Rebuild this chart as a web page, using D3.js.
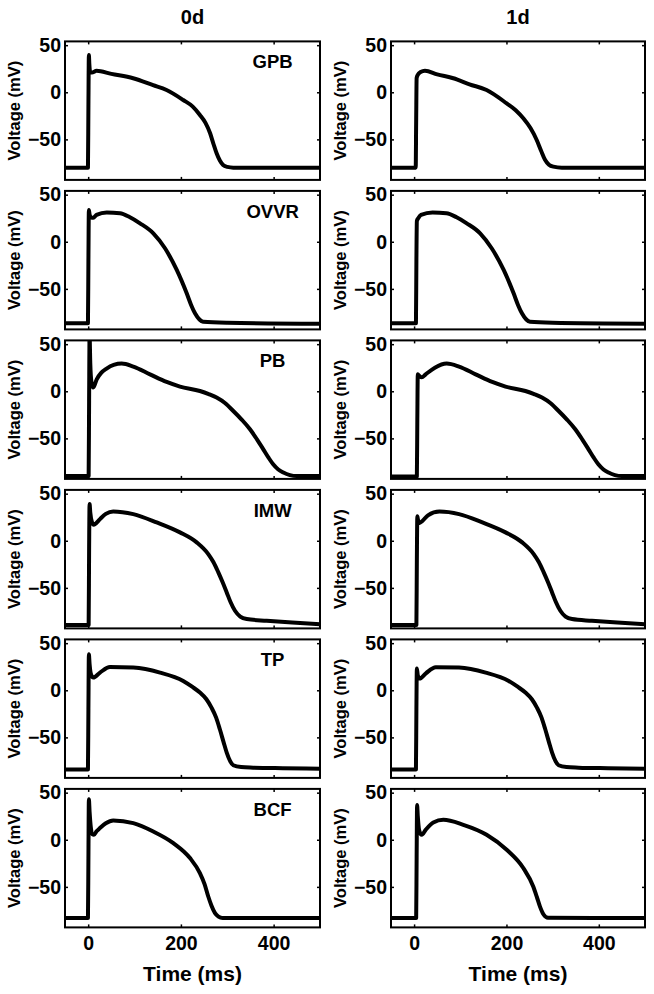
<!DOCTYPE html>
<html>
<head>
<meta charset="utf-8">
<script src="https://cdn.jsdelivr.net/npm/d3@7"></script>
<style>
html,body{margin:0;padding:0;background:#fff;}
svg{display:block;}
text{font-family:"Liberation Sans",Arial,Helvetica,sans-serif;font-weight:bold;fill:#000;}
</style>
</head>
<body>
<svg id="chart" width="654" height="994"></svg>
<script>
// ---- data ----
const conditions = ["0d", "1d"];
const models = ["GPB", "OVVR", "PB", "IMW", "TP", "BCF"];
const xTicks = [0, 200, 400];
const yTicks = [-50, 0, 50];
const xDomain = [-50, 500];
const yDomain = [-93, 54];

const gpb0d = [[-50,-80],[-0.5,-80],[0.5,-15],[1.5,39.5],[2.5,30],[4,22],[8,21],[18,22.8],[50,19.5],[97,14.9],[140,7.5],[169,2.4],[205,-8.2],[225,-15],[241,-24.1],[253,-32.5],[263,-43.5],[270,-54.5],[277,-64.8],[284,-72.5],[291,-77.2],[300,-79.2],[313,-80],[500,-80]];
const gpb1d = [[-50,-80],[3.5,-80],[4.5,-30],[5.5,15],[8,18.5],[14,21.5],[23.6,22.9],[50,19],[85,14.9],[120,8.5],[157,2.4],[200.5,-11.8],[220,-19],[236.5,-27.6],[252,-38],[265.5,-50.6],[275,-62],[283.5,-71.6],[292,-76.8],[301.5,-78.9],[320,-80],[500,-80]];
const ovvr0d = [[-50,-86.5],[-0.5,-86.5],[0.5,-20],[1.5,33.8],[3,29],[6,26],[11,25.5],[18,28.5],[40,31],[68.6,30.3],[90,26],[111.8,19.6],[140.5,9],[165.7,-6.9],[191,-29.9],[212.5,-54.7],[222,-67],[230.4,-75.9],[240,-82.5],[248,-85],[300,-86],[500,-87]];
const ovvr1d = [[-50,-86.5],[4,-86.5],[5,-20],[6,22],[9,25],[15,28.5],[40,31],[70,30.3],[92,26],[114,19.6],[143,9],[168,-6.9],[194,-29.9],[215.5,-54.7],[225,-67],[233.5,-75.9],[243,-82.5],[251,-85],[300,-86],[500,-87]];
const pb0d = [[-50,-90],[1,-90],[2,-10],[3,60],[4.5,30],[7,10],[11,3.9],[18.4,12.7],[28,19.5],[39.7,24.1],[55,28],[72.3,29.4],[97.3,26.2],[133.3,18],[169.2,9.9],[198,5],[241,0.3],[260,-3],[277,-6.7],[295,-12.5],[313,-20.9],[331,-30],[349,-40.3],[364,-51],[377.7,-61.6],[389,-70.5],[399,-77.5],[410,-83],[421,-86.3],[435,-89],[450,-90],[500,-90]];
const pb1d = [[-50,-90.5],[6,-90.5],[7,-30],[8,18],[11,16.5],[16.5,14.8],[25,18],[45,25.1],[70.6,29.4],[97.3,26.2],[133.3,18],[169.2,9.9],[198,5],[241,0.3],[260,-3],[277,-6.7],[295,-12.5],[313,-20.9],[331,-30],[349,-40.3],[364,-51],[377.7,-61.6],[389,-70.5],[399,-77.5],[410,-83],[421,-86.3],[435,-89],[450,-90],[500,-90]];
const imw0d = [[-50,-89.5],[1,-89.5],[2,-10],[3,39],[4.5,30],[8,20],[12,17],[14.7,17.7],[25.5,23],[38,28.5],[54,31.2],[97.3,28.3],[147.8,19.5],[198,8.9],[234,-1.7],[259,-14.1],[270,-22.5],[280.7,-33.5],[290,-44],[298.8,-54.8],[307,-65],[316.7,-74.3],[328,-80.5],[342,-83.1],[385,-84.9],[440,-86.8],[500,-88.5]];
const imw1d = [[-50,-89.5],[5,-89.5],[6,-20],[7,26],[8.5,22],[12,19],[18,21],[30,27],[55,31],[97.3,28.3],[147.8,19.5],[198,8.9],[234,-1.7],[259,-14.1],[270,-22.5],[280.7,-33.5],[290,-44],[298.8,-54.8],[307,-65],[316.7,-74.3],[328,-80.5],[342,-83.1],[385,-84.9],[440,-86.8],[500,-88.5]];
const tp0d = [[-50,-84],[-0.5,-84],[0.5,-20],[1.5,38.2],[3,28],[6,17],[11,13.5],[25.5,18.8],[47,24.7],[97.3,24.1],[155,18.8],[205,9.9],[225,3.5],[241,-2.4],[255,-9.5],[266,-18.4],[276,-29],[284,-41.4],[292,-55],[298.8,-66.1],[306,-75],[313,-79.6],[330,-81.5],[356,-82.1],[420,-82.7],[500,-83.2]];
const tp1d = [[-50,-84],[4,-84],[5,-20],[6,23],[8,16],[12,12.5],[25.5,18],[47,24.5],[97.3,24.1],[155,18.8],[205,9.9],[225,3.5],[241,-2.4],[255,-9.5],[266,-18.4],[276,-29],[284,-41.4],[292,-55],[298.8,-66.1],[306,-75],[313,-79.6],[330,-81.5],[356,-82.1],[420,-82.7],[500,-83.2]];
const bcf0d = [[-50,-83],[-0.5,-83],[0.5,-20],[1.5,43],[3,30],[6,12],[9,6],[12.5,5.3],[18,9],[25.5,12.4],[38,17.5],[54,20.5],[97.3,17.7],[140.5,8.8],[183.6,-3.5],[219.6,-19.4],[241,-35.4],[251,-47],[259,-60.2],[266,-70],[273.6,-77.9],[281,-81.5],[290,-83],[500,-83]];
const bcf1d = [[-50,-83],[4.5,-83],[5.5,-20],[6.5,37],[8,25],[11,10],[16.5,5.3],[25,10.5],[41.6,18.4],[63.3,21.2],[106.6,15.9],[157,5.3],[200.5,-10.6],[236.5,-30],[258,-49.6],[266,-61],[272.6,-70.9],[280,-79],[290,-82.8],[500,-83]];

const series = {
  GPB: [gpb0d, gpb1d],
  OVVR: [ovvr0d, ovvr1d],
  PB: [pb0d, pb1d],
  IMW: [imw0d, imw1d],
  TP: [tp0d, tp1d],
  BCF: [bcf0d, bcf1d]
};

// ---- layout ----
const svg = d3.select("#chart");
const colX = [65, 391];
const colW = [255, 254];
const rowTop0 = 41.4, rowStep = 149.5, panelH = 138.5;
const font = '"Liberation Sans",Arial,Helvetica,sans-serif';

conditions.forEach((cond, c) => {
  const x = d3.scaleLinear().domain(xDomain).range([colX[c], colX[c] + colW[c]]);
  svg.append("text")
    .attr("x", colX[c] + colW[c] / 2)
    .attr("y", 24)
    .attr("text-anchor", "middle")
    .style("font-size", "20px")
    .text(cond);

  models.forEach((m, r) => {
    const top = rowTop0 + r * rowStep;
    const y = d3.scaleLinear().domain(yDomain).range([top + panelH, top]);
    const g = svg.append("g");
    const clipId = "clip-" + c + "-" + r;
    svg.append("clipPath").attr("id", clipId)
      .append("rect").attr("x", x.range()[0]).attr("y", top)
      .attr("width", colW[c]).attr("height", panelH);

    const line = d3.line().x(d => x(d[0])).y(d => y(d[1])).curve(d3.curveMonotoneX);
    g.append("path")
      .datum(series[m][c])
      .attr("clip-path", "url(#" + clipId + ")")
      .attr("d", line)
      .attr("fill", "none")
      .attr("stroke", "#000")
      .attr("stroke-width", 4)
      .attr("stroke-linejoin", "round");

    // axes with inward ticks
    const left = g.append("g").attr("transform", `translate(${x.range()[0]},0)`)
      .call(d3.axisLeft(y).tickValues(yTicks).tickSize(-3).tickPadding(4));
    const right = g.append("g").attr("transform", `translate(${x.range()[1]},0)`)
      .call(d3.axisRight(y).tickValues(yTicks).tickSize(-3).tickFormat(""));
    const topAx = g.append("g").attr("transform", `translate(0,${top})`)
      .call(d3.axisTop(x).tickValues(xTicks).tickSize(-3).tickFormat(""));
    const bottom = g.append("g").attr("transform", `translate(0,${top + panelH})`)
      .call(d3.axisBottom(x).tickValues(xTicks).tickSize(-3).tickPadding(9)
        .tickFormat(r === models.length - 1 ? d3.format("d") : () => ""));
    [left, right, topAx, bottom].forEach(a => {
      a.select(".domain").remove();
      a.selectAll(".tick line").attr("stroke", "#000").attr("stroke-width", 1.5);
      a.selectAll(".tick text").style("font-family", font).style("font-weight", "bold")
        .style("font-size", "19.5px").attr("fill", "#000");
    });

    g.append("rect")
      .attr("x", x.range()[0]).attr("y", top)
      .attr("width", colW[c]).attr("height", panelH)
      .attr("fill", "none").attr("stroke", "#000").attr("stroke-width", 2);

    // y label
    svg.append("text")
      .attr("transform", `translate(${x.range()[0] - 51},${top + panelH / 2}) rotate(-90)`)
      .attr("dy", "0.35em")
      .attr("text-anchor", "middle")
      .style("font-size", "16.5px")
      .text("Voltage (mV)");

    if (c === 0) {
      svg.append("text")
        .attr("x", x(400) - 1)
        .attr("y", top + 27)
        .attr("text-anchor", "middle")
        .style("font-size", "18.5px")
        .text(m);
    }

    if (r === models.length - 1) {
      svg.append("text")
        .attr("x", colX[c] + colW[c] / 2)
        .attr("y", 980.5)
        .attr("text-anchor", "middle")
        .style("font-size", "21px")
        .text("Time (ms)");
    }
  });
});
</script>
</body>
</html>
